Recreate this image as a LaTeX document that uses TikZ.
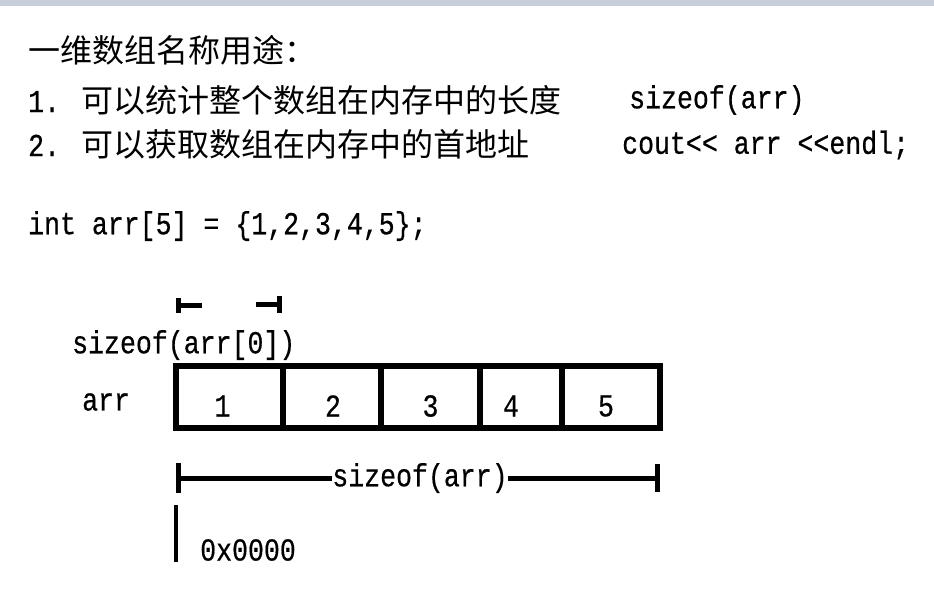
\documentclass[tikz,border=0pt]{standalone}
\usepackage{fontspec}
\setmainfont[FakeStretch=0.83,FakeBold=0.5]{Liberation Mono}
\newfontfamily\cjk{Noto Sans CJK SC}
\usetikzlibrary{arrows.meta}
\definecolor{bandgray}{RGB}{200,205,218}

\begin{document}
\begin{tikzpicture}[x=1pt,y=-1pt]
    \tikzstyle{every node}=[inner sep=0pt,font=\fontsize{32pt}{36pt}\selectfont];
    \tikzstyle{txt}=[anchor=west];
    \tikzstyle{cell}=[draw,line width=5.5pt,minimum height=62pt];
    \tikzstyle{dim}=[draw,line width=5pt];

    \useasboundingbox (0,0) rectangle (934,590);
    \fill[bandgray] (0,0) rectangle (934,6);

    % text lines
    \node[txt] (title) at (28,50) {\cjk 一维数组名称用途：};
    \node[txt] (use1) at (28,100) {1. {\cjk 可以统计整个数组在内存中的长度}};
    \node[txt] (code1) at (629,100) {sizeof(arr)};
    \node[txt] (use2) at (28,144) {2. {\cjk 可以获取数组在内存中的首地址}};
    \node[txt] (code2) at (622,145) {cout<\kern0pt< arr <\kern0pt<endl;};
    \node[txt] (decl) at (28,226) {int arr[5] = \{1,2,3,4,5\};};

    % array cells
    \node[cell,minimum width=107pt] (c1) at (229.5,397) {};
    \node[cell,minimum width=98pt]  (c2) at (332,397) {};
    \node[cell,minimum width=99pt]  (c3) at (430.5,397) {};
    \node[cell,minimum width=82pt]  (c4) at (521,397) {};
    \node[cell,minimum width=98pt]  (c5) at (611,397) {};
    \node at ([shift={(-7,9)}]c1.center) (v1) {1};
    \node at ([shift={(1,9)}]c2.center)  (v2) {2};
    \node at ([shift={(0,9)}]c3.center)  (v3) {3};
    \node at ([shift={(-10,9)}]c4.center) (v4) {4};
    \node at ([shift={(-5,9)}]c5.center) (v5) {5};
    \node[txt] (name) at (82,402) {arr};

    % element size
    \node[txt] (esize) at (72,345) {sizeof(arr[0])};
    \coordinate (w0) at (176,305);
    \coordinate (w1) at (202,305);
    \coordinate (w2) at (256,304);
    \coordinate (w3) at (282,304);
    \draw[dim,{Bar[width=15pt]}-] (w0) -- (w1);
    \draw[dim,-{Bar[width=17pt]}] (w2) -- (w3);

    % total size
    \coordinate (s0) at (176,478);
    \coordinate (s1) at (660,478);
    \node (tsize) at (420,478) {sizeof(arr)};
    \draw[dim,{Bar[width=30pt]}-] (s0) -- (tsize.west);
    \draw[dim,-{Bar[width=28pt]}] (tsize.east) -- (s1);

    % first address
    \coordinate (a0) at (176,505);
    \coordinate (a1) at (176,562);
    \draw[dim,line width=4.5pt] (a0) -- (a1);
    \node[txt] (addr) at (200,550) {0x0000};
\end{tikzpicture}
\end{document}
